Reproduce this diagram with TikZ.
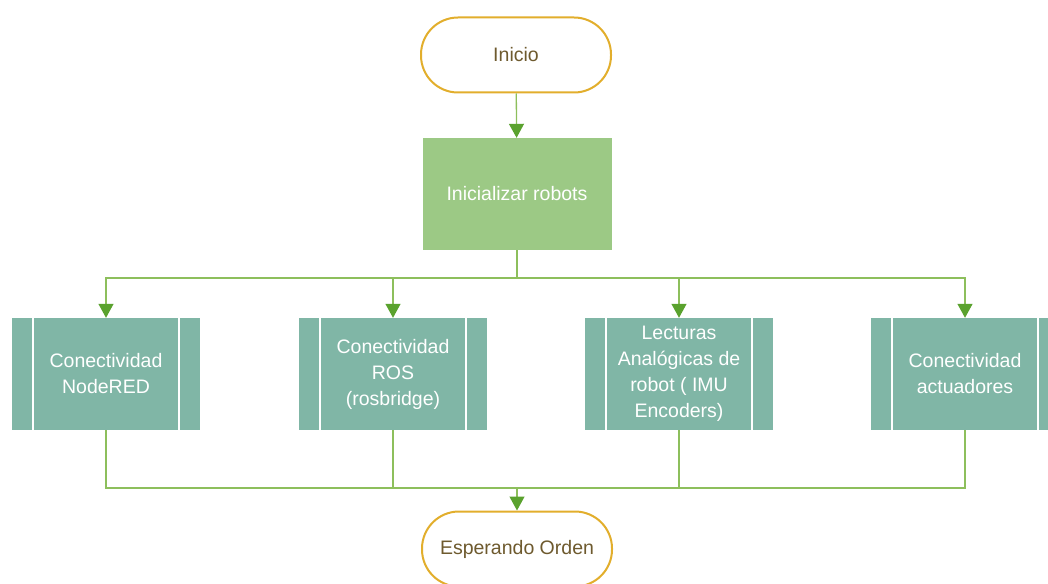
\documentclass[tikz,border=0pt]{standalone}
\usepackage{fontspec}
\setmainfont{Liberation Sans}
\usetikzlibrary{arrows.meta,positioning}
\definecolor{gold}{HTML}{E2AE2C}
\definecolor{brownt}{HTML}{6E5A2E}
\definecolor{lgreen}{HTML}{9CC985}
\definecolor{teal}{HTML}{80B6A6}
\definecolor{lineg}{HTML}{8DBF5C}
\definecolor{arrowg}{HTML}{5AA22E}
\tikzset{
  term/.style={draw=gold,line width=2pt,rounded corners=37pt,minimum width=190pt,minimum height=75pt,fill=white,text=brownt,font=\fontsize{19.5}{24}\selectfont},
  initbox/.style={fill=lgreen,minimum width=189pt,minimum height=112pt,text=white,font=\fontsize{19.5}{24}\selectfont},
  procbox/.style={fill=teal,minimum width=188pt,minimum height=112pt,text=white,align=center,font=\fontsize{19.5}{26}\selectfont,
    path picture={
      \draw[white,line width=2pt] ([xshift=21pt]path picture bounding box.north west) -- ([xshift=21pt]path picture bounding box.south west);
      \draw[white,line width=2pt] ([xshift=-21pt]path picture bounding box.north east) -- ([xshift=-21pt]path picture bounding box.south east);
    }},
  conn/.style={draw=lineg,line width=1.3pt},
  arr/.style={conn,-{Triangle[length=14pt,width=15pt,color=arrowg]}},
}
\begin{document}
\begin{tikzpicture}[x=1pt,y=-1pt]
\useasboundingbox (0,0) rectangle (1048,583);
\clip (0,0) rectangle (1048,583);
\node[term] (inicio) at (516,55) {Inicio};
\node[initbox] (init) at (517,194) {Inicializar robots};
\node[procbox] (p1) at (106,374) {Conectividad\\NodeRED};
\node[procbox] (p2) at (393,374) {Conectividad\\ROS\\(rosbridge)};
\node[procbox] (p3) at (679,374) {Lecturas\\Analógicas de\\robot ( IMU\\Encoders)};
\node[procbox] (p4) at (965,374) {Conectividad\\actuadores};
\node[term] (espera) at (517,549) {Esperando Orden};
\coordinate (split) at (517,278);
\coordinate (join) at (517,488);
\draw[arr] (inicio) -- (init);
\draw[conn] (init.south) -- (split);
\foreach \p in {p1,p2,p3,p4}{
  \draw[arr] (split) -| (\p.north);
  \draw[conn] (\p.south) |- (join);
}
\draw[arr] (join) -- (espera.north);
\end{tikzpicture}
\end{document}
